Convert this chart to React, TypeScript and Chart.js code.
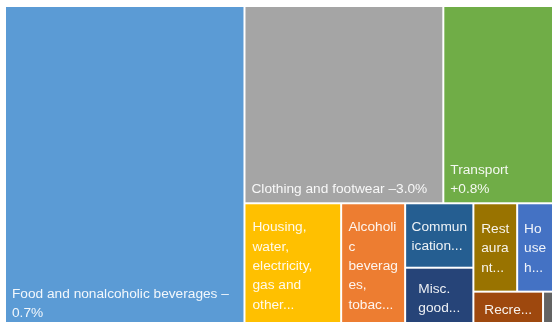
import React, { useEffect, useRef } from "react";
import { Chart, registerables } from "chart.js";

Chart.register(...registerables);

// ---- data ----
const categories = [
  "Food and nonalcoholic beverages",
  "Clothing and footwear",
  "Transport",
  "Housing, water, electricity, gas and other fuels",
  "Alcoholic beverages, tobacco",
  "Communication",
  "Misc. goods and services",
  "Restaurants and hotels",
  "Household furnishings and equipment",
  "Recreation and culture",
  "Education",
];

// relative weights (share of total area)
const weights = [43.7, 22.3, 12.3, 6.8, 4.5, 2.5, 2.3, 2.2, 1.8, 1.4, 0.2];

// displayed label lines (as wrapped / truncated in the original)
const labelLines: string[][] = [
  ["Food and nonalcoholic beverages –", "0.7%"],
  ["Clothing and footwear –3.0%"],
  ["Transport", "+0.8%"],
  ["Housing,", "water,", "electricity,", "gas and", "other..."],
  ["Alcoholi", "c", "beverag", "es,", "tobac..."],
  ["Commun", "ication..."],
  ["Misc.", "good..."],
  ["Rest", "aura", "nt..."],
  ["Ho", "use", "h..."],
  ["Recre..."],
  [],
];

// strips of the squarified layout (groups of category indices)
const strips = [[0], [1, 2], [3], [4], [5, 6], [7, 8], [9], [10]];

const colors = [
  "#5B9BD5",
  "#A5A5A5",
  "#70AD47",
  "#FFC000",
  "#ED7D31",
  "#255E91",
  "#264478",
  "#997300",
  "#4472C4",
  "#9E480E",
  "#636363",
];

type R = { x: number; y: number; w: number; h: number };

function computeLayout(aspect: number): R[] {
  const total = weights.reduce((a, b) => a + b, 0);
  const area = (i: number) => (weights[i] / total) * aspect;
  let rx = 0,
    ry = 0,
    rw = aspect,
    rh = 1;
  const rects: R[] = [];
  for (const g of strips) {
    const s = g.reduce((a, i) => a + area(i), 0);
    if (rw >= rh) {
      const cw = s / rh;
      let yy = ry;
      for (const i of g) {
        const h = area(i) / cw;
        rects[i] = { x: rx, y: yy, w: cw, h };
        yy += h;
      }
      rx += cw;
      rw -= cw;
    } else {
      const ch = s / rw;
      let xx = rx;
      for (const i of g) {
        const w = area(i) / ch;
        rects[i] = { x: xx, y: ry, w, h: ch };
        xx += w;
      }
      ry += ch;
      rh -= ch;
    }
  }
  return rects;
}

const treemapPlugin = {
  id: "treemapCells",
  afterDatasetsDraw(chart: any) {
    const { ctx, chartArea, scales } = chart;
    const xs = scales.x;
    const ys = scales.y;
    const aspect = chartArea.width / chartArea.height;
    const rects = computeLayout(aspect);
    const fontSize = 13.7;
    const lh = 19.4;
    const capH = fontSize * 0.716;
    ctx.save();
    ctx.font = `${fontSize}px "Liberation Sans", Arial, sans-serif`;
    rects.forEach((r, i) => {
      const x0 = xs.getPixelForValue(r.x / aspect);
      const x1 = xs.getPixelForValue((r.x + r.w) / aspect);
      const y0 = ys.getPixelForValue(r.y);
      const y1 = ys.getPixelForValue(r.y + r.h);
      ctx.fillStyle = colors[i];
      ctx.fillRect(x0 + 1, y0 + 1, x1 - x0 - 2, y1 - y0 - 2);

      const lines = labelLines[i];
      if (!lines.length) return;
      ctx.save();
      ctx.beginPath();
      ctx.rect(x0 + 1, y0 + 1, x1 - x0 - 2, y1 - y0 - 2);
      ctx.clip();
      ctx.fillStyle = "rgba(255,255,255,0.92)";
      ctx.textBaseline = "alphabetic";
      ctx.textAlign = "left";
      const n = lines.length;
      const truncated = lines[n - 1].endsWith("...");
      if (!truncated) {
        const tx = x0 + 7;
        lines.forEach((t, k) => {
          ctx.fillText(t, tx, y1 - 10 - (n - 1 - k) * lh);
        });
      } else {
        const bw = Math.max(...lines.map((t) => ctx.measureText(t).width));
        const cellW = x1 - x0;
        const tx =
          cellW > 85
            ? x0 + 8
            : Math.max(x0 + 6, (x0 + x1) / 2 - bw / 2);
        const bh = capH + (n - 1) * lh;
        const fb = (y0 + y1) / 2 - bh / 2 + capH;
        lines.forEach((t, k) => {
          ctx.fillText(t, tx, fb + k * lh);
        });
      }
      ctx.restore();
    });
    ctx.restore();
  },
};

export default function App() {
  const ref = useRef<HTMLCanvasElement | null>(null);
  useEffect(() => {
    if (!ref.current) return;
    const chart = new Chart(ref.current, {
      type: "scatter",
      data: {
        labels: categories,
        datasets: [{ label: "weights", data: [] }],
      },
      options: {
        responsive: false,
        animation: false,
        devicePixelRatio: 1,
        layout: { padding: { left: 5, top: 6, right: 2, bottom: 3 } },
        plugins: {
          legend: { display: false },
          tooltip: { enabled: false },
          title: { display: false },
        },
        scales: {
          x: { type: "linear", min: 0, max: 1, display: false },
          y: { type: "linear", min: 0, max: 1, reverse: true, display: false },
        },
      },
      plugins: [treemapPlugin],
    });
    return () => chart.destroy();
  }, []);
  return (
    <div
      style={{
        position: "fixed",
        left: 0,
        top: 0,
        width: 555,
        height: 330,
        background: "#fff",
      }}
    >
      <canvas ref={ref} width={555} height={330} style={{ display: "block" }} />
    </div>
  );
}
